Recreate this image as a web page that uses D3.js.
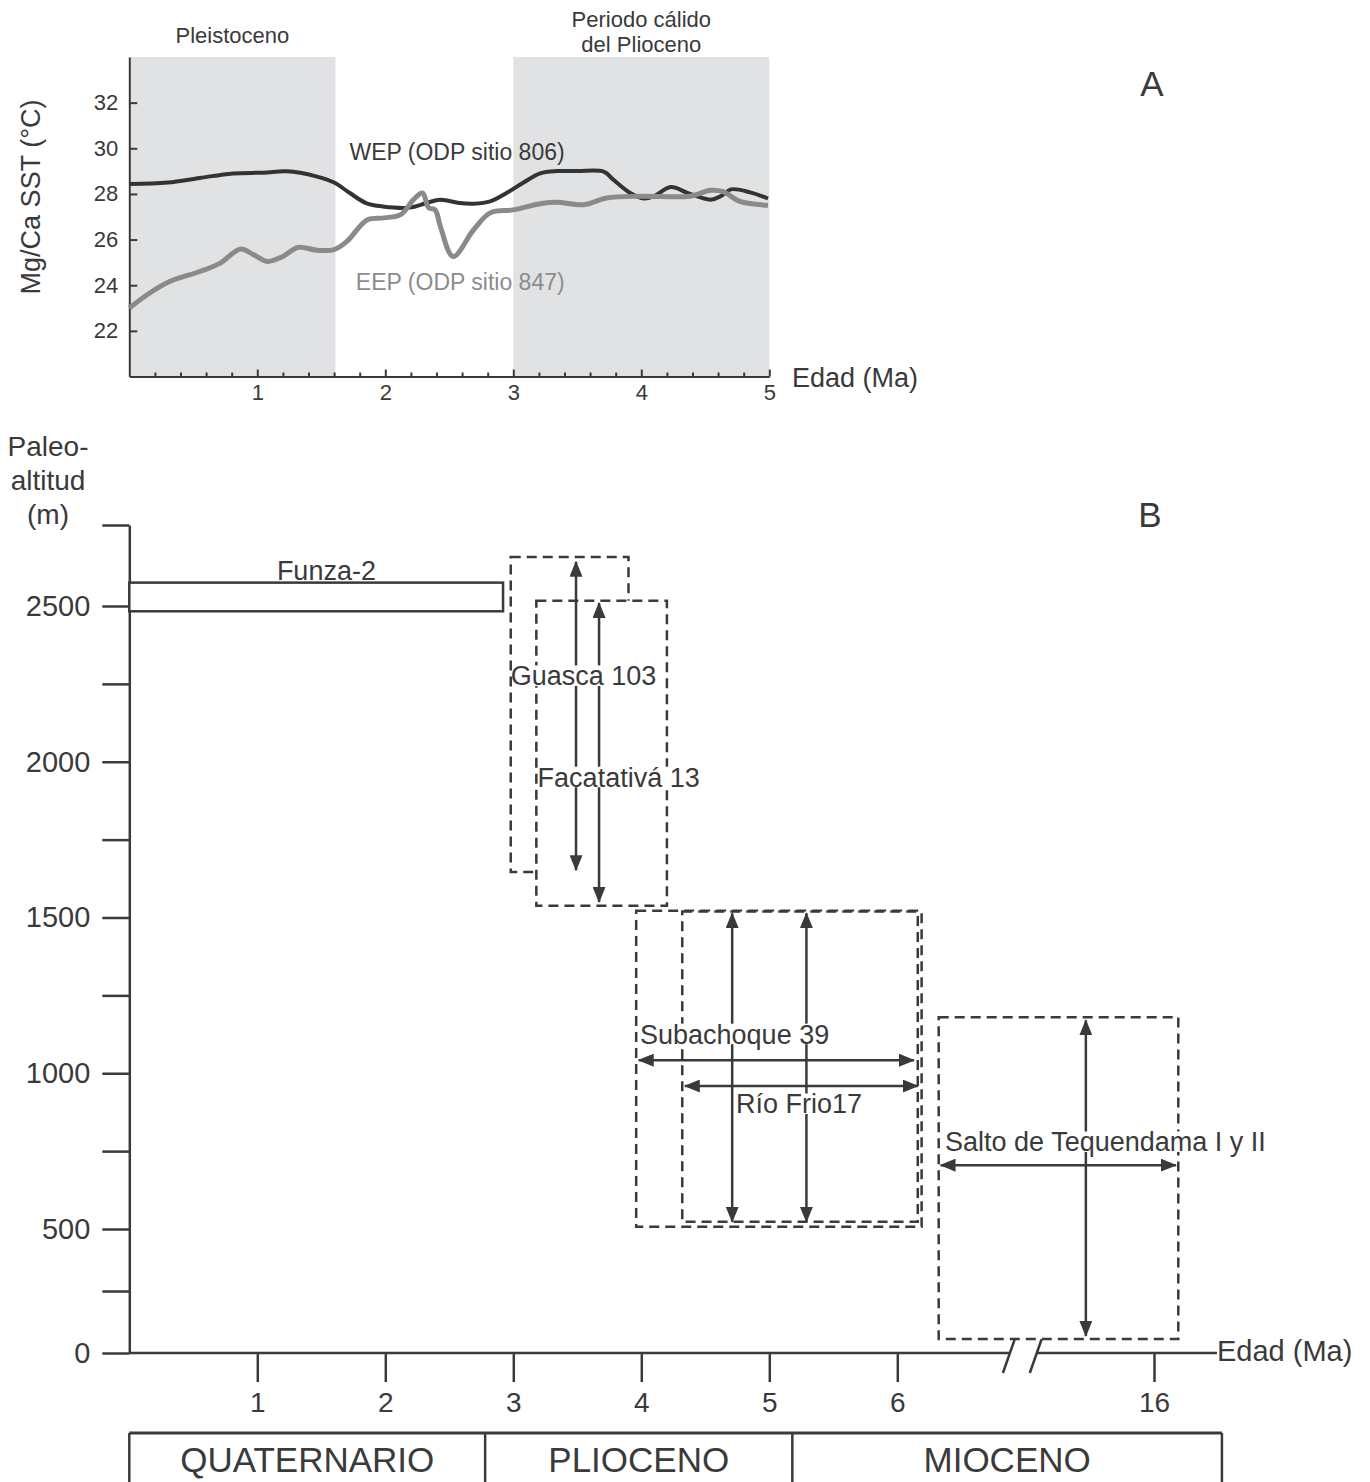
<!DOCTYPE html>
<html>
<head>
<meta charset="utf-8">
<script src="https://cdn.jsdelivr.net/npm/d3@7"></script>
<style>
  body { margin: 0; background: #fff; }
  svg { display: block; font-family: "Liberation Sans", Arial, Helvetica, sans-serif; }
</style>
</head>
<body>
<svg id="chart" width="1370" height="1482"></svg>
<script>
// ---- panel A: Mg/Ca sea surface temperature (°C) vs age (Ma)
const wepAge = [0, 0.3, 0.55, 0.81, 1.05, 1.23, 1.46, 1.6, 1.72, 1.85, 1.98, 2.19, 2.32, 2.43, 2.58, 2.69, 2.82, 2.95, 3.08, 3.21, 3.34, 3.5, 3.71, 3.78, 3.91, 4.02, 4.1, 4.23, 4.36, 4.54, 4.62, 4.7, 4.85, 4.99];
const wepSST = [28.44, 28.5, 28.7, 28.9, 28.93, 28.99, 28.77, 28.5, 28.05, 27.6, 27.45, 27.4, 27.6, 27.75, 27.6, 27.57, 27.67, 28.05, 28.5, 28.9, 29.0, 29.0, 28.97, 28.63, 28.05, 27.8, 27.9, 28.3, 28.05, 27.75, 27.9, 28.2, 28.07, 27.8];
const eepAge = [0, 0.16, 0.32, 0.55, 0.71, 0.87, 0.97, 1.08, 1.2, 1.32, 1.47, 1.6, 1.7, 1.86, 1.99, 2.12, 2.22, 2.29, 2.34, 2.39, 2.43, 2.53, 2.69, 2.82, 3.0, 3.21, 3.34, 3.55, 3.73, 3.99, 4.38, 4.54, 4.64, 4.77, 4.99];
const eepSST = [23.0, 23.66, 24.17, 24.6, 24.97, 25.59, 25.34, 25.04, 25.26, 25.66, 25.53, 25.56, 25.92, 26.87, 26.95, 27.09, 27.75, 28.04, 27.39, 27.3, 26.58, 25.26, 26.43, 27.17, 27.3, 27.57, 27.63, 27.53, 27.82, 27.9, 27.9, 28.16, 28.1, 27.67, 27.5];
const shadeNames = [["Pleistoceno"], ["Periodo cálido", "del Plioceno"]];
const shadeStart = [0, 3];
const shadeEnd = [1.61, 5];
const sstTicks = [22, 24, 26, 28, 30, 32];
const ageTicksA = [1, 2, 3, 4, 5];

// ---- panel B: paleoaltitude (m) vs age (Ma), axis broken after 6 Ma
const funzaAge = [0, 2.92];
const funzaAlt = [2483, 2575];
const siteNames = ["Guasca 103", "Facatativá 13", "Subachoque 39", "Río Frio17", "Salto de Tequendama I y II"];
const boxAge0 = [2.98, 3.18, 3.96, 4.32, 6.87];
const boxAge1 = [3.9, 4.2, 6.19, 6.16, 17.03];
const boxAlt0 = [1646, 1538, 507, 523, 56];
const boxAlt1 = [2657, 2517, 1522, 1519, 1180];
const labelAge = [2.98, 3.19, 3.99, 4.74, 7.14];
const labelAlt = [2245, 1920, 1095, 871, 749];
const vArrowAge = [3.49, 3.67, 4.71, 5.29, 13.11];
const vArrowAlt0 = [1652, 1550, 523, 523, 69];
const vArrowAlt1 = [2642, 2510, 1514, 1514, 1170];
const hArrowAlt = [1042, 959, 705];
const hArrowAge0 = [3.98, 4.34, 6.95];
const hArrowAge1 = [6.13, 6.16, 16.93];
const altTicks = [0, 250, 500, 750, 1000, 1250, 1500, 1750, 2000, 2250, 2500, 2760];
const ageTicksB = [1, 2, 3, 4, 5, 6, 16];
const axisBreak = [9.89, 11.03];
const axisEnd = 18.67;
const epochNames = ["QUATERNARIO", "PLIOCENO", "MIOCENO"];
const epochBounds = [0, 2.78, 5.18, 18.88];

const ink = "#3a3a3a";
const svg = d3.select("#chart");

// ================= panel A =================
const xA = d3.scaleLinear().domain([0, 5]).range([129.3, 769.3]);
const yA = d3.scaleLinear().domain([20, 34]).range([376.5, 57]);
const gA = svg.append("g");

gA.selectAll("rect.shade").data(shadeStart).join("rect")
  .attr("class", "shade")
  .attr("x", d => xA(d))
  .attr("y", yA(34))
  .attr("width", (d, i) => xA(shadeEnd[i]) - xA(d))
  .attr("height", yA(20) - yA(34))
  .attr("fill", "#e1e2e4");

shadeNames.forEach((lines, i) => {
  const cx = xA((shadeStart[i] + shadeEnd[i]) / 2);
  lines.forEach((t, j) => {
    gA.append("text").attr("x", cx).attr("y", lines.length === 1 ? 43 : 27 + j * 25)
      .attr("text-anchor", "middle").attr("font-size", 22).attr("fill", ink).text(t);
  });
});

const yAxisA = gA.append("g").attr("transform", `translate(${xA(0)},0)`)
  .call(d3.axisLeft(yA).tickValues(sstTicks).tickSize(-8).tickSizeOuter(0).tickPadding(11));
const xAxisA = gA.append("g").attr("transform", `translate(0,${yA(20)})`)
  .call(d3.axisBottom(xA).tickValues(ageTicksA).tickFormat(d3.format("d")).tickSize(-7).tickSizeOuter(0).tickPadding(8));
const minorA = gA.append("g").attr("transform", `translate(0,${yA(20)})`)
  .call(d3.axisBottom(xA).tickValues(d3.range(1, 25).filter(i => i % 5 !== 0).map(i => i / 5)).tickSize(-4).tickFormat(""));
minorA.select(".domain").remove();
[yAxisA, xAxisA, minorA].forEach(ax => {
  ax.attr("font-family", null).attr("font-size", 22).attr("color", ink);
  ax.selectAll("path, line").attr("stroke-width", 2);
});

const lineA = d3.line().curve(d3.curveCatmullRom.alpha(0.5));
gA.append("path")
  .attr("d", lineA(wepAge.map((a, i) => [xA(a), yA(wepSST[i])])))
  .attr("fill", "none").attr("stroke", "#333").attr("stroke-width", 4).attr("stroke-linejoin", "round");
gA.append("path")
  .attr("d", lineA(eepAge.map((a, i) => [xA(a), yA(eepSST[i])])))
  .attr("fill", "none").attr("stroke", "#8a8a8a").attr("stroke-width", 5).attr("stroke-linejoin", "round");

gA.append("text").attr("x", xA(1.72)).attr("y", yA(29.84)).attr("dy", "0.35em")
  .attr("font-size", 23).attr("fill", ink).text("WEP (ODP sitio 806)");
gA.append("text").attr("x", xA(1.77)).attr("y", yA(24.14)).attr("dy", "0.35em")
  .attr("font-size", 23).attr("fill", "#8c8c8c").text("EEP (ODP sitio 847)");

gA.append("text").attr("transform", `translate(40,197) rotate(-90)`)
  .attr("text-anchor", "middle").attr("font-size", 27).attr("fill", ink).text("Mg/Ca SST (°C)");
gA.append("text").attr("x", 792).attr("y", 387).attr("font-size", 27).attr("fill", ink).text("Edad (Ma)");
gA.append("text").attr("x", 1152).attr("y", 96).attr("text-anchor", "middle").attr("font-size", 35).attr("fill", ink).text("A");

// ================= panel B =================
const xB = d3.scaleLinear().domain([0, 6.2, 16]).range([129.3, 922.9, 1154]);
const yB = d3.scaleLinear().domain([0, 500, 2760]).range([1353, 1229, 525]);
const gB = svg.append("g");

const defs = svg.append("defs");
defs.append("marker").attr("id", "head")
  .attr("viewBox", "0 0 16 13").attr("refX", 15).attr("refY", 6.5)
  .attr("markerWidth", 16).attr("markerHeight", 13).attr("markerUnits", "userSpaceOnUse")
  .attr("orient", "auto-start-reverse")
  .append("path").attr("d", "M0,0L16,6.5L0,13Z").attr("fill", ink);

// y axis
const yAxisB = gB.append("g").attr("transform", `translate(${xB(0)},0)`)
  .call(d3.axisLeft(yB).tickValues(altTicks).tickSize(27).tickSizeOuter(0).tickPadding(12)
    .tickFormat(d => (d % 500 === 0 && d <= 2500) ? d : ""));
yAxisB.attr("font-family", null).attr("font-size", 29).attr("color", ink);
yAxisB.selectAll("path, line").attr("stroke-width", 2.5);

gB.selectAll("text.ytitle").data(["Paleo-", "altitud", "(m)"]).join("text")
  .attr("class", "ytitle").attr("x", 48).attr("y", (d, i) => 456 + i * 34)
  .attr("text-anchor", "middle").attr("font-size", 28).attr("fill", ink).text(d => d);

// x axis with break
const xAxisB = gB.append("g").attr("transform", `translate(0,${yB(0)})`)
  .call(d3.axisBottom(xB).tickValues(ageTicksB).tickSize(29).tickPadding(10));
xAxisB.select(".domain").remove();
xAxisB.attr("font-family", null).attr("font-size", 28).attr("color", ink);
xAxisB.selectAll("line").attr("stroke-width", 2.5);
[[0, axisBreak[0]], [axisBreak[1], axisEnd]].forEach(([a, b]) => {
  gB.append("line").attr("x1", xB(a)).attr("x2", xB(b)).attr("y1", yB(0)).attr("y2", yB(0))
    .attr("stroke", ink).attr("stroke-width", 2.5);
});
axisBreak.forEach(a => {
  gB.append("line").attr("x1", xB(a) + 7).attr("y1", yB(0) - 20).attr("x2", xB(a) - 7).attr("y2", yB(0) + 20)
    .attr("stroke", ink).attr("stroke-width", 2.5);
});
gB.append("text").attr("x", xB(axisEnd)).attr("y", 1361).attr("font-size", 29).attr("fill", ink).text("Edad (Ma)");
gB.append("text").attr("x", 1150).attr("y", 527).attr("text-anchor", "middle").attr("font-size", 35).attr("fill", ink).text("B");

// Funza-2 core
gB.append("rect")
  .attr("x", xB(funzaAge[0])).attr("y", yB(funzaAlt[1]))
  .attr("width", xB(funzaAge[1]) - xB(funzaAge[0])).attr("height", yB(funzaAlt[0]) - yB(funzaAlt[1]))
  .attr("fill", "#fff").attr("stroke", ink).attr("stroke-width", 2.5);
gB.append("text").attr("x", xB(1.54)).attr("y", yB(2585)).attr("text-anchor", "middle")
  .attr("font-size", 27).attr("fill", ink).text("Funza-2");

// dashed range boxes
gB.selectAll("rect.site").data(siteNames).join("rect")
  .attr("class", "site")
  .attr("x", (d, i) => xB(boxAge0[i]))
  .attr("y", (d, i) => yB(boxAlt1[i]))
  .attr("width", (d, i) => xB(boxAge1[i]) - xB(boxAge0[i]))
  .attr("height", (d, i) => yB(boxAlt0[i]) - yB(boxAlt1[i]))
  .attr("fill", (d, i) => i === 0 ? "none" : "#fff")
  .attr("stroke", ink).attr("stroke-width", 2.5).attr("stroke-dasharray", "10,6");

// arrows
gB.selectAll("line.varrow").data(vArrowAge).join("line")
  .attr("class", "varrow")
  .attr("x1", d => xB(d)).attr("x2", d => xB(d))
  .attr("y1", (d, i) => yB(vArrowAlt1[i])).attr("y2", (d, i) => yB(vArrowAlt0[i]))
  .attr("stroke", ink).attr("stroke-width", 2.5)
  .attr("marker-start", "url(#head)").attr("marker-end", "url(#head)");
gB.selectAll("line.harrow").data(hArrowAlt).join("line")
  .attr("class", "harrow")
  .attr("x1", (d, i) => xB(hArrowAge0[i])).attr("x2", (d, i) => xB(hArrowAge1[i]))
  .attr("y1", d => yB(d)).attr("y2", d => yB(d))
  .attr("stroke", ink).attr("stroke-width", 2.5)
  .attr("marker-start", "url(#head)").attr("marker-end", "url(#head)");

// site labels with white backing
siteNames.forEach((name, i) => {
  const t = gB.append("text").attr("x", xB(labelAge[i])).attr("y", yB(labelAlt[i]))
    .attr("font-size", 27).attr("fill", ink).text(name);
  const bb = t.node().getBBox();
  gB.insert("rect", () => t.node())
    .attr("x", bb.x + 1.5).attr("y", yB(labelAlt[i]) - 27 * 0.74)
    .attr("width", bb.width - 1.5).attr("height", 27 * 0.76)
    .attr("fill", "#fff");
});

// epoch table
const gE = svg.append("g");
gE.append("line").attr("x1", xB(epochBounds[0])).attr("x2", xB(epochBounds[3]))
  .attr("y1", 1433).attr("y2", 1433).attr("stroke", ink).attr("stroke-width", 3);
gE.selectAll("line.div").data(epochBounds).join("line")
  .attr("class", "div")
  .attr("x1", d => xB(d)).attr("x2", d => xB(d)).attr("y1", 1433).attr("y2", 1490)
  .attr("stroke", ink).attr("stroke-width", 2.5);
gE.selectAll("text").data(epochNames).join("text")
  .attr("x", (d, i) => (xB(epochBounds[i]) + xB(epochBounds[i + 1])) / 2)
  .attr("y", 1472).attr("text-anchor", "middle").attr("font-size", 35).attr("fill", ink)
  .text(d => d);
</script>
</body>
</html>
